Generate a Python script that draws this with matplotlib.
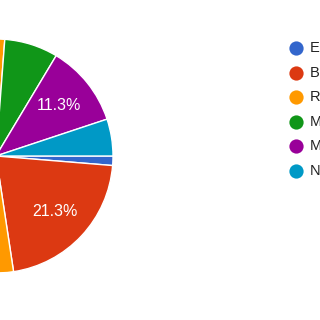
import matplotlib.pyplot as plt

plt.rcParams['font.family'] = ['Liberation Sans', 'DejaVu Sans']

# slice data (percent), in legend order
labels = ["E", "B", "R", "M", "M", "N"]
shares = [1.3, 21.3, 53.6, 7.4, 11.3, 5.1]
colors = ["#3366cc", "#dc3912", "#ff9900", "#109618", "#990099", "#0099c6"]

fig = plt.figure(figsize=(3.2, 3.2), dpi=100)
ax = fig.add_axes([0, 0, 1, 1])
ax.set_xlim(0, 320)
ax.set_ylim(0, 320)
ax.set_aspect("equal")
ax.axis("off")

# pie is partly off the left edge, like the reference
wedges, texts, autotexts = ax.pie(
    shares,
    colors=colors,
    startangle=0,
    counterclock=False,
    center=(-4, 320 - 156),
    radius=117,
    autopct=lambda p: f"{p:.1f}%" if 10 < p < 50 else "",
    pctdistance=0.69,
    wedgeprops=dict(edgecolor="white", linewidth=1),
    textprops=dict(color="white", fontsize=11.5),
)
ax.set_xlim(0, 320)
ax.set_ylim(0, 320)

# legend
for i, (lab, col) in enumerate(zip(labels, colors)):
    y = 320 - (48 + i * 24.6)
    ax.scatter(295.5, y, s=105, color=col, linewidths=0, clip_on=False)
    ax.text(310, y, lab, fontsize=10.5, color="#222222", va="center", ha="left")

fig.savefig("out.png", dpi=100)
